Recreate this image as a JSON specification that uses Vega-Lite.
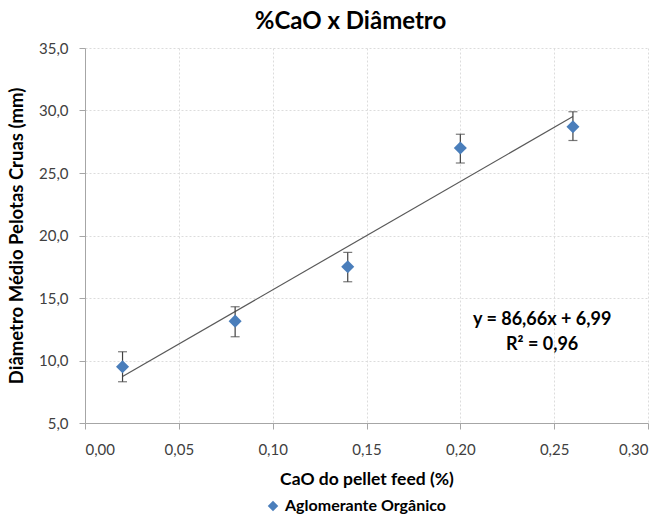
{
  "$schema": "https://vega.github.io/schema/vega-lite/v6.json",
  "width": 563,
  "height": 375,
  "autosize": {"type": "none"},
  "padding": {"left": 85, "top": 48, "right": 18, "bottom": 92},
  "background": "white",
  "title": {"text": "%CaO x Diâmetro", "font": "Lato", "fontSize": 24, "fontWeight": "bold", "color": "#000000", "anchor": "middle", "dx": -16, "offset": 7},
  "config": {
    "view": {"stroke": null},
    "font": "Lato",
    "axis": {
      "labelFont": "Lato", "labelFontSize": 15, "labelColor": "#404040",
      "titleFont": "Lato", "titleFontWeight": "bold", "titleColor": "#000000",
      "gridColor": "#dcdcdc", "gridDash": [2, 2], "gridWidth": 1,
      "domainColor": "#a6a6a6", "tickColor": "#a6a6a6", "tickSize": 6
    },
    "axisX": {"titleFontSize": 17.5, "labelPadding": 13, "titlePadding": 13},
    "axisY": {"titleFontSize": 18.5, "labelPadding": 11, "titlePadding": 12}
  },
  "datasets": {
    "pts": [
      {"x": 0.02, "y": 9.5, "lo": 8.3, "hi": 10.7, "serie": "Aglomerante Orgânico"},
      {"x": 0.08, "y": 13.15, "lo": 11.9, "hi": 14.3, "serie": "Aglomerante Orgânico"},
      {"x": 0.14, "y": 17.5, "lo": 16.3, "hi": 18.65, "serie": "Aglomerante Orgânico"},
      {"x": 0.20, "y": 27.0, "lo": 25.8, "hi": 28.1, "serie": "Aglomerante Orgânico"},
      {"x": 0.26, "y": 28.7, "lo": 27.6, "hi": 29.9, "serie": "Aglomerante Orgânico"}
    ],
    "trend": [
      {"x": 0.02, "y": 8.72},
      {"x": 0.26, "y": 29.52}
    ],
    "eq": [
      {"x": 0.2436, "y": 13.24, "label": "y = 86,66x + 6,99"},
      {"x": 0.2436, "y": 11.24, "label": "R² = 0,96"}
    ]
  },
  "layer": [
    {
      "data": {"name": "trend"},
      "mark": {"type": "line", "color": "#595959", "strokeWidth": 1.2},
      "encoding": {
        "x": {"field": "x", "type": "quantitative", "title": "CaO do pellet feed (%)",
          "scale": {"domain": [0, 0.3], "nice": false, "zero": false},
          "axis": {"values": [0, 0.05, 0.1, 0.15, 0.2, 0.25, 0.3],
            "labelExpr": "replace(format(datum.value, '.2f'), '.', ',')"}},
        "y": {"field": "y", "type": "quantitative", "title": "Diâmetro Médio Pelotas Cruas (mm)",
          "scale": {"domain": [5, 35], "nice": false, "zero": false},
          "axis": {"values": [5, 10, 15, 20, 25, 30, 35],
            "labelExpr": "replace(format(datum.value, '.1f'), '.', ',')"}}
      }
    },
    {
      "data": {"name": "pts"},
      "mark": {"type": "rule", "color": "#404040", "strokeWidth": 1.2},
      "encoding": {
        "x": {"field": "x", "type": "quantitative", "title": "CaO do pellet feed (%)"},
        "y": {"field": "lo", "type": "quantitative", "title": "Diâmetro Médio Pelotas Cruas (mm)"},
        "y2": {"field": "hi"}
      }
    },
    {
      "data": {"name": "pts"},
      "mark": {"type": "tick", "orient": "horizontal", "color": "#404040", "size": 9, "thickness": 1.2},
      "encoding": {
        "x": {"field": "x", "type": "quantitative", "title": "CaO do pellet feed (%)"},
        "y": {"field": "lo", "type": "quantitative", "title": "Diâmetro Médio Pelotas Cruas (mm)"}
      }
    },
    {
      "data": {"name": "pts"},
      "mark": {"type": "tick", "orient": "horizontal", "color": "#404040", "size": 9, "thickness": 1.2},
      "encoding": {
        "x": {"field": "x", "type": "quantitative", "title": "CaO do pellet feed (%)"},
        "y": {"field": "hi", "type": "quantitative", "title": "Diâmetro Médio Pelotas Cruas (mm)"}
      }
    },
    {
      "data": {"name": "pts"},
      "mark": {"type": "point", "shape": "diamond", "filled": true, "size": 170, "opacity": 1},
      "encoding": {
        "x": {"field": "x", "type": "quantitative", "title": "CaO do pellet feed (%)"},
        "y": {"field": "y", "type": "quantitative", "title": "Diâmetro Médio Pelotas Cruas (mm)"},
        "color": {"field": "serie", "type": "nominal", "scale": {"range": ["#4A7EBB"]},
          "legend": {"title": null, "orient": "none", "legendX": 180, "legendY": 450, "symbolType": "diamond", "symbolSize": 110,
            "labelFont": "Lato", "labelFontSize": 16, "labelFontWeight": "bold", "labelColor": "#000000", "labelLimit": 400, "symbolOpacity": 1}}
      }
    },
    {
      "data": {"name": "eq"},
      "mark": {"type": "text", "font": "Lato", "fontSize": 18, "fontWeight": "bold", "color": "#000000", "baseline": "middle", "align": "center"},
      "encoding": {
        "x": {"field": "x", "type": "quantitative", "title": "CaO do pellet feed (%)"},
        "y": {"field": "y", "type": "quantitative", "title": "Diâmetro Médio Pelotas Cruas (mm)"},
        "text": {"field": "label"}
      }
    }
  ]
}
